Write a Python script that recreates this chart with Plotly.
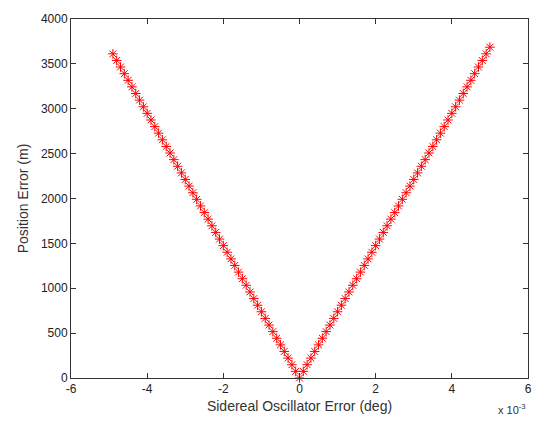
import plotly.graph_objects as go

# Sidereal oscillator error, in units of 1e-3 deg (axis shows "x 10^-3")
x_err = [-4.9, -4.8, -4.7, -4.6, -4.5, -4.4, -4.3, -4.2, -4.1, -4.0,
         -3.9, -3.8, -3.7, -3.6, -3.5, -3.4, -3.3, -3.2, -3.1, -3.0,
         -2.9, -2.8, -2.7, -2.6, -2.5, -2.4, -2.3, -2.2, -2.1, -2.0,
         -1.9, -1.8, -1.7, -1.6, -1.5, -1.4, -1.3, -1.2, -1.1, -1.0,
         -0.9, -0.8, -0.7, -0.6, -0.5, -0.4, -0.3, -0.2, -0.1, 0.0,
         0.1, 0.2, 0.3, 0.4, 0.5, 0.6, 0.7, 0.8, 0.9, 1.0,
         1.1, 1.2, 1.3, 1.4, 1.5, 1.6, 1.7, 1.8, 1.9, 2.0,
         2.1, 2.2, 2.3, 2.4, 2.5, 2.6, 2.7, 2.8, 2.9, 3.0,
         3.1, 3.2, 3.3, 3.4, 3.5, 3.6, 3.7, 3.8, 3.9, 4.0,
         4.1, 4.2, 4.3, 4.4, 4.5, 4.6, 4.7, 4.8, 4.9, 5.0]

# Position error (m)
pos_err = [3612, 3538, 3465, 3391, 3317, 3244, 3170, 3096, 3022, 2949,
           2875, 2801, 2728, 2654, 2580, 2507, 2433, 2359, 2285, 2212,
           2138, 2064, 1991, 1917, 1843, 1770, 1696, 1622, 1548, 1475,
           1401, 1327, 1254, 1180, 1106, 1033, 959, 885, 811, 738,
           664, 590, 517, 443, 369, 296, 222, 148, 74, 0,
           74, 148, 222, 296, 369, 443, 517, 590, 664, 738,
           811, 885, 959, 1033, 1106, 1180, 1254, 1327, 1401, 1475,
           1548, 1622, 1696, 1770, 1843, 1917, 1991, 2064, 2138, 2212,
           2285, 2359, 2433, 2507, 2580, 2654, 2728, 2801, 2875, 2949,
           3022, 3096, 3170, 3244, 3317, 3391, 3465, 3538, 3612, 3686]

x_ticks = [-6, -4, -2, 0, 2, 4, 6]
y_ticks = [0, 500, 1000, 1500, 2000, 2500, 3000, 3500, 4000]

font_family = "Liberation Sans, Arial, sans-serif"

fig = go.Figure()
fig.add_trace(go.Scatter(
    x=x_err, y=pos_err, mode="markers", cliponaxis=False,
    marker=dict(symbol="asterisk-open", size=8, color="red",
                line=dict(color="red", width=1)),
    showlegend=False,
))

axis_common = dict(
    showline=True, linecolor="#333333", linewidth=1, mirror="ticks",
    ticks="inside", ticklen=5, tickcolor="#333333",
    showgrid=False, zeroline=False,
    tickfont=dict(family=font_family, size=12, color="#222222"),
)

fig.update_layout(
    width=544, height=423,
    margin=dict(l=71, r=12, t=14, b=42),
    paper_bgcolor="white", plot_bgcolor="white",
    font=dict(family=font_family, color="#222222"),
    xaxis=dict(range=[-6, 6], tickvals=x_ticks,
               ticktext=[str(v) for v in x_ticks],
               title=dict(text="Sidereal Oscillator Error (deg)",
                          font=dict(size=14, color="#333333"), standoff=5),
               **axis_common),
    yaxis=dict(range=[0, 4000], tickvals=y_ticks,
               ticktext=[str(v) for v in y_ticks],
               title=dict(text="Position Error (m)",
                          font=dict(size=14, color="#333333"), standoff=8),
               **axis_common),
)

fig.add_annotation(
    text="x 10<sup>-3</sup>", xref="paper", yref="paper",
    x=1.0, y=0, xanchor="right", yanchor="top", yshift=-22,
    showarrow=False, font=dict(family=font_family, size=11, color="#333333"),
)

fig.write_html("out.html")
